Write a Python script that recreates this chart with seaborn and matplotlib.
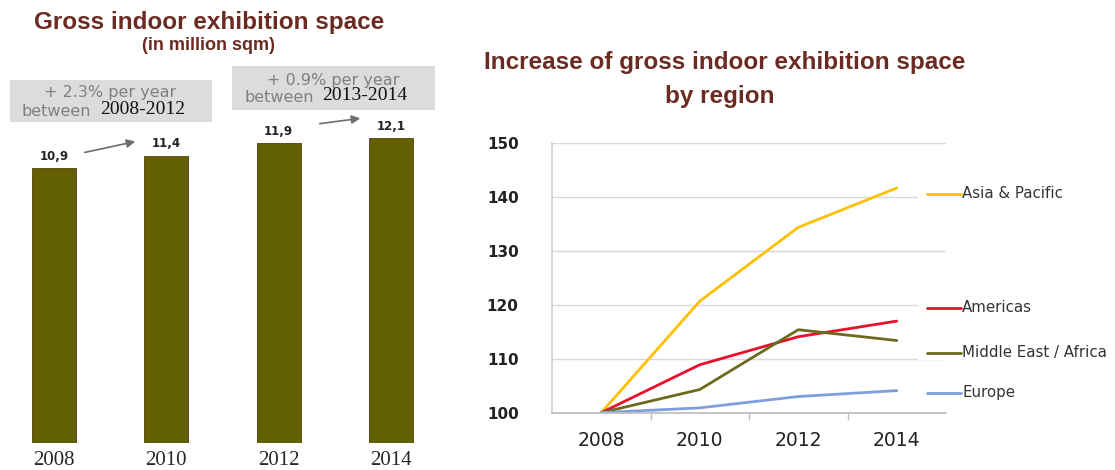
import matplotlib
matplotlib.use("Agg")
import matplotlib.pyplot as plt
from matplotlib.patches import Rectangle, FancyArrowPatch
from matplotlib.lines import Line2D
import seaborn as sns
import pandas as pd

# data
bar_years = ["2008", "2010", "2012", "2014"]
bar_values = [10.9, 11.4, 11.9, 12.1]
bar_labels = ["10,9", "11,4", "11,9", "12,1"]

line_years = ["2008", "2010", "2012", "2014"]
asia_pacific = [100, 120.7, 134.4, 141.7]
americas = [100, 108.9, 114.1, 117.0]
middle_east_africa = [100, 104.3, 115.4, 113.4]
europe = [100, 100.9, 103.0, 104.1]
regions = ["Asia & Pacific", "Americas", "Middle East / Africa", "Europe"]
region_colors = ["#ffc000", "#e8102a", "#6b6b1e", "#7f9fdc"]

W, H = 1115, 470
TITLE_COLOR = "#6b2b22"


def px_box(l, t, r, b):
    return [l / W, 1 - b / H, (r - l) / W, (b - t) / H]


def px(x, y):
    return (x / W, 1 - y / H)


sns.set_theme(style="white")
plt.rcParams["font.family"] = ["DejaVu Sans"]

fig = plt.figure(figsize=(W / 100, H / 100), dpi=100)

# ---------- left: bar chart ----------
ax1 = fig.add_axes(px_box(0, 0, 445, 443))
sns.barplot(x=bar_years, y=bar_values, color="#626000", width=0.39,
            edgecolor="#5a3a10", linewidth=0.6, saturation=1, ax=ax1)
ax1.set_xlim(-0.48, 3.48)
ax1.set_ylim(0, 443 / 25.2)
for s in ax1.spines.values():
    s.set_visible(False)
ax1.set_yticks([])
ax1.tick_params(axis="x", length=0, labelsize=15, pad=6)
for lbl in ax1.get_xticklabels():
    lbl.set_fontfamily("Liberation Serif")
ax1.bar_label(ax1.containers[0], labels=bar_labels, padding=4,
              fontsize=8.5, fontweight="bold", color="#222222")

fig.text(*px(209, 23), "Gross indoor exhibition space", ha="center", va="center",
         fontsize=17.5, fontweight="bold", family="Liberation Sans", color=TITLE_COLOR)
fig.text(*px(208, 46), "(in million sqm)", ha="center", va="center",
         fontsize=13, fontweight="bold", family="Liberation Sans", color=TITLE_COLOR)

# annotation boxes
for (l, t, r, b) in [(10, 80, 212, 122), (232, 66, 435, 110)]:
    fig.patches.append(Rectangle(px(l, b), (r - l) / W, (b - t) / H,
                                 transform=fig.transFigure, facecolor="#dcdcdc",
                                 edgecolor="none", zorder=1))

fig.text(*px(110, 93), "+ 2.3% per year", ha="center", va="center",
         fontsize=11.5, color="#808080", zorder=4)
fig.text(*px(56, 111), "between", ha="center", va="center",
         fontsize=11.5, color="#808080", zorder=4)
fig.text(*px(143, 110), "2008-2012", ha="center", va="center",
         fontsize=14, family="Liberation Serif", color="#111111", zorder=4)

fig.text(*px(333, 80), "+ 0.9% per year", ha="center", va="center",
         fontsize=11.5, color="#808080", zorder=4)
fig.text(*px(279, 97), "between", ha="center", va="center",
         fontsize=11.5, color="#808080", zorder=4)
fig.text(*px(365, 96), "2013-2014", ha="center", va="center",
         fontsize=14, family="Liberation Serif", color="#111111", zorder=4)

for (x0, y0, x1, y1) in [(82, 153, 138, 141), (317, 124, 363, 118)]:
    fig.add_artist(FancyArrowPatch(
        px(x0, y0), px(x1, y1), transform=fig.transFigure,
        arrowstyle="-|>,head_length=5,head_width=2.5", color="#6e6e6e",
        lw=1.2, mutation_scale=1))

# ---------- right: line chart ----------
df = pd.DataFrame({
    "year": line_years * 4,
    "value": asia_pacific + americas + middle_east_africa + europe,
    "region": [r for r in regions for _ in line_years],
})

ax2 = fig.add_axes(px_box(552, 143.3, 946, 412.7))
sns.lineplot(data=df, x="year", y="value", hue="region", hue_order=regions,
             palette=region_colors, linewidth=2, legend=False, ax=ax2)
ax2.set_xlim(-0.5, 3.5)
ax2.set_ylim(100, 150)
ax2.set_yticks([100, 110, 120, 130, 140, 150])
ax2.yaxis.grid(True, color="#d9d9d9", lw=1)
ax2.set_xlabel("")
ax2.set_ylabel("")
ax2.spines["top"].set_visible(False)
ax2.spines["right"].set_visible(False)
ax2.spines["left"].set_color("#d0d0d0")
ax2.spines["bottom"].set_color("#bfbfbf")
ax2.tick_params(axis="y", length=0, pad=24, labelsize=11, labelcolor="#222222")
for lbl in ax2.get_yticklabels():
    lbl.set_fontweight("bold")
ax2.tick_params(axis="x", which="major", length=0, pad=13, labelsize=13.5,
                labelcolor="#222222")
ax2.set_xticks([0.5, 1.5, 2.5], minor=True)
ax2.tick_params(axis="x", which="minor", length=5, width=1, color="#bfbfbf",
                direction="out", bottom=True)

fig.text(*px(725, 63), "Increase of gross indoor exhibition space", ha="center",
         va="center", fontsize=17.5, fontweight="bold", family="Liberation Sans",
         color=TITLE_COLOR)
fig.text(*px(720, 97), "by region", ha="center", va="center", fontsize=17.5,
         fontweight="bold", family="Liberation Sans", color=TITLE_COLOR)

# labels at line ends
label_rows = [194, 308, 353, 393]
for name, color, y in zip(regions, region_colors, label_rows):
    fig.patches.append(Rectangle(px(918, y + 7), 200 / W, 14 / H,
                                 transform=fig.transFigure, facecolor="white",
                                 edgecolor="none", zorder=2))
    fig.add_artist(Line2D([927 / W, 961 / W], [1 - y / H, 1 - y / H],
                          color=color, lw=2, zorder=3))
    fig.text(*px(962, y), name, ha="left", va="center", fontsize=10.8,
             color="#333333", zorder=4)

fig.savefig("out.png", dpi=100)
